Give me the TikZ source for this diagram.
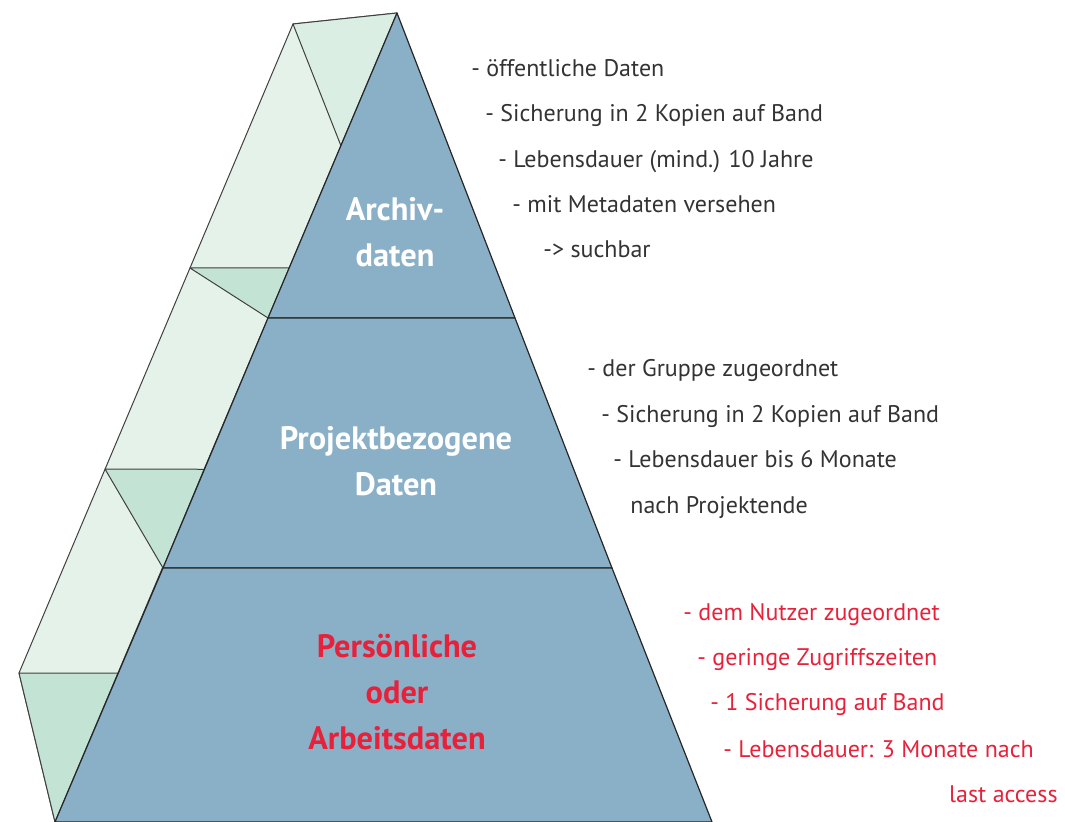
\documentclass[tikz,border=0pt]{standalone}
\usepackage{fontspec}
\setmainfont{PT Sans}
\usetikzlibrary{positioning, calc}
\definecolor{pyrblue}{RGB}{138,176,200}
\definecolor{sidegreen}{RGB}{228,242,234}
\definecolor{topgreen}{RGB}{218,238,228}
\definecolor{tipgreen}{RGB}{195,228,213}
\definecolor{txtgray}{RGB}{51,51,51}
\definecolor{txtred}{RGB}{232,33,58}

\begin{document}
\begin{tikzpicture}[x=0.5pt, y=-0.5pt,
        tier/.style={fill=pyrblue, draw=black!85, line width=0.6pt, line join=round},
        side/.style={fill=sidegreen, draw=black!75, line width=0.5pt, line join=round},
        wedge/.style={fill=tipgreen, draw=black!75, line width=0.5pt, line join=round},
        title/.style={font=\fontsize{16.2}{23}\selectfont\bfseries, align=center, text=white, inner sep=0pt},
        note/.style={font=\fontsize{12}{12}\selectfont, text=txtgray, anchor=base west, inner sep=0pt},
        rednote/.style={note, text=txtred},
    ]
    \useasboundingbox (0,0) rectangle (1065,822);

    % ===== Pyramid corners =====
    \coordinate (apex) at (397,13);
    \coordinate (L1) at (268,318);
    \coordinate (R1) at (515,318);
    \coordinate (L2) at (163,568);
    \coordinate (R2) at (612,568);
    \coordinate (L3) at (55,822);
    \coordinate (R3) at (712,822);

    % ===== Side panel =====
    \coordinate (O0) at (293,24);
    \coordinate (O1) at (190,268);
    \coordinate (O2) at (105,469);
    \coordinate (O3) at (19,673);
    \coordinate (E0) at ($(apex)!0.164!(L3)$);
    \coordinate (E1) at ($(apex)!0.315!(L3)$);
    \coordinate (E2) at ($(apex)!0.564!(L3)$);
    \coordinate (E3) at ($(apex)!0.816!(L3)$);

    \draw[side] (O0) -- (apex) -- (L3) -- (O3) -- cycle;
    \draw[side, fill=topgreen] (O0) -- (apex) -- (E0) -- cycle;
    \draw[wedge] (O1) -- (E1) -- (L1) -- cycle;
    \draw[wedge] (O2) -- (E2) -- (L2) -- cycle;
    \draw[wedge] (O3) -- (E3) -- (L3) -- cycle;

    % ===== Pyramid tiers =====
    \draw[tier] (apex) -- (R1) -- (L1) -- cycle;
    \draw[tier] (L1) -- (R1) -- (R2) -- (L2) -- cycle;
    \draw[tier] (L2) -- (R2) -- (R3) -- (L3) -- cycle;

    \node[title] (archiv) at (395,232) {Archiv-\\daten};
    \node[title] (projekt) at (396,461) {Projektbezogene\\Daten};
    \node[title, text=txtred] (person) at (397,692) {Persönliche\\oder\\Arbeitsdaten};

    % ===== Notes: Archivdaten =====
    \node[note] (a1) at (471,77)  {- öffentliche Daten};
    \node[note] (a2) at (485,122) {- Sicherung in 2 Kopien auf Band};
    \node[note] (a3) at (498,168) {- Lebensdauer (mind.) 10 Jahre};
    \node[note] (a4) at (512,213) {- mit Metadaten versehen};
    \node[note] (a5) at (543,258) {-> suchbar};

    % ===== Notes: Projektdaten =====
    \node[note] (p1) at (587,377) {- der Gruppe zugeordnet};
    \node[note] (p2) at (601,423) {- Sicherung in 2 Kopien auf Band};
    \node[note] (p3) at (613,468) {- Lebensdauer bis 6 Monate};
    \node[note] (p4) at (630,514) {nach Projektende};

    % ===== Notes: persoenliche Daten =====
    \node[rednote] (u1) at (683,621) {- dem Nutzer zugeordnet};
    \node[rednote] (u2) at (697,666) {- geringe Zugriffszeiten};
    \node[rednote] (u3) at (710,711) {- 1 Sicherung auf Band};
    \node[rednote] (u4) at (723,757) {- Lebensdauer: 3 Monate nach};
    \node[rednote, anchor=base east] (u5) at (1058,802) {last access};

\end{tikzpicture}
\end{document}
